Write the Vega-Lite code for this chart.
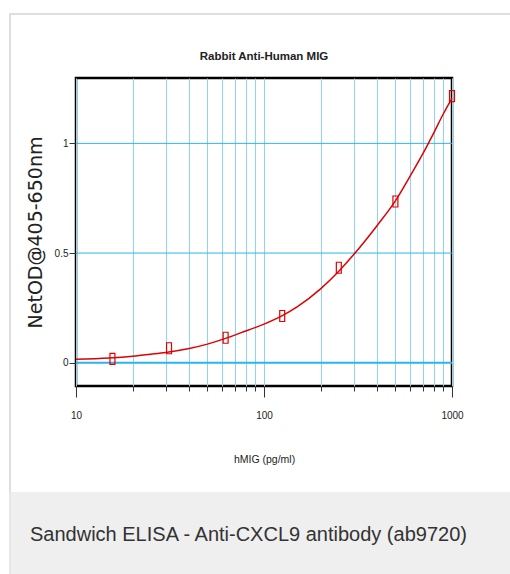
{
  "$schema": "https://vega.github.io/schema/vega-lite/v6.json",
  "background": "white",
  "padding": {"left": 9, "top": 13, "right": -9, "bottom": 0},
  "bounds": "flush",
  "center": {"row": false, "column": true},
  "columns": 2,
  "spacing": 0,
  "datasets": {
    "points": [
      {"conc": 15.625, "od": 0.018},
      {"conc": 31.25, "od": 0.066},
      {"conc": 62.5, "od": 0.114},
      {"conc": 125, "od": 0.213},
      {"conc": 250, "od": 0.433},
      {"conc": 500, "od": 0.735},
      {"conc": 1000, "od": 1.215}
    ],
    "curve": [
      {"conc": 10, "od": 0.016},
      {"conc": 15, "od": 0.022},
      {"conc": 20, "od": 0.03},
      {"conc": 25, "od": 0.039},
      {"conc": 30, "od": 0.047},
      {"conc": 40, "od": 0.065},
      {"conc": 50, "od": 0.085},
      {"conc": 62.5, "od": 0.111},
      {"conc": 75, "od": 0.136},
      {"conc": 100, "od": 0.176},
      {"conc": 125, "od": 0.215},
      {"conc": 150, "od": 0.255},
      {"conc": 200, "od": 0.337},
      {"conc": 250, "od": 0.417},
      {"conc": 300, "od": 0.493},
      {"conc": 400, "od": 0.626},
      {"conc": 500, "od": 0.738},
      {"conc": 600, "od": 0.852},
      {"conc": 700, "od": 0.953},
      {"conc": 800, "od": 1.048},
      {"conc": 900, "od": 1.135},
      {"conc": 1000, "od": 1.205}
    ],
    "ygrid": [
      {"od": 0},
      {"od": 0.5},
      {"od": 1}
    ]
  },
  "concat": [
    {
      "width": 2,
      "height": 65,
      "view": {"fill": "#dedede", "stroke": null},
      "data": {"values": []},
      "mark": "text",
      "encoding": {}
    },
    {
      "width": 508,
      "height": 2,
      "view": {"fill": "#dedede", "stroke": null},
      "data": {"values": []},
      "mark": "text",
      "encoding": {}
    },
    {
      "width": 2,
      "height": 414,
      "view": {"fill": "#dedede", "stroke": null},
      "data": {"values": []},
      "mark": "text",
      "encoding": {}
    },
    {
      "width": 376,
      "height": 308,
      "title": {
        "text": "Rabbit Anti-Human MIG",
        "font": "Liberation Sans",
        "fontSize": 11.5,
        "fontWeight": "bold",
        "color": "#222",
        "baseline": "alphabetic",
        "offset": 7
      },
      "view": {"stroke": "black", "strokeWidth": 2.5},
      "layer": [
        {
          "data": {"name": "ygrid"},
          "mark": {"type": "rule", "color": "#2bb5ea"},
          "encoding": {
            "y": {
              "field": "od",
              "type": "quantitative",
              "scale": {"domain": [-0.106, 1.298], "nice": false, "zero": false},
              "axis": {
                "values": [0, 0.5, 1],
                "format": "~g",
                "title": "NetOD@405-650nm",
                "domain": false,
                "grid": false,
                "tickColor": "#333",
                "tickSize": 7,
                "labelFont": "Liberation Sans",
                "labelFontSize": 10,
                "labelColor": "#222",
                "labelPadding": 1,
                "titleFont": "DejaVu Sans",
                "titleFontSize": 19,
                "titleFontWeight": "normal",
                "titleColor": "#222",
                "titlePadding": 9
              }
            },
            "strokeWidth": {"condition": {"test": "datum.od == 0", "value": 2}, "value": 1}
          }
        },
        {
          "data": {"name": "curve"},
          "mark": {"type": "line", "color": "#e00000", "strokeWidth": 1.5, "interpolate": "monotone"},
          "encoding": {
            "x": {
              "field": "conc",
              "type": "quantitative",
              "scale": {"type": "log", "domain": [10, 1000], "nice": false},
              "axis": {
                "values": [10, 20, 30, 40, 50, 60, 70, 80, 90, 100, 200, 300, 400, 500, 600, 700, 800, 900, 1000],
                "format": "d",
                "labelExpr": "datum.value == 10 || datum.value == 100 || datum.value == 1000 ? datum.label : ''",
                "title": "hMIG (pg/ml)",
                "domain": false,
                "grid": true,
                "gridColor": "#8fd3f3",
                "gridWidth": 1,
                "tickColor": "#333",
                "tickSize": {"condition": {"test": "datum.value == 10 || datum.value == 100 || datum.value == 1000", "value": 11}, "value": 5},
                "labelFont": "Liberation Sans",
                "labelFontSize": 10,
                "labelColor": "#222",
                "labelPadding": 13,
                "labelFlush": false,
                "labelOverlap": "greedy",
                "labelSeparation": 0,
                "titleFont": "Liberation Sans",
                "titleFontSize": 10.5,
                "titleFontWeight": "normal",
                "titleColor": "#222",
                "titlePadding": 34
              }
            },
            "y": {"field": "od", "type": "quantitative"}
          }
        },
        {
          "data": {"name": "points"},
          "mark": {
            "type": "point",
            "shape": "M-0.45,-1L0.45,-1L0.45,1L-0.45,1Z",
            "size": 121,
            "filled": false,
            "color": "#e00000",
            "strokeWidth": 1.2,
            "opacity": 1
          },
          "encoding": {
            "x": {"field": "conc", "type": "quantitative"},
            "y": {"field": "od", "type": "quantitative"}
          }
        }
      ]
    },
    {
      "width": 2,
      "height": 82,
      "view": {"fill": "#e6e7e6", "stroke": null},
      "data": {"values": []},
      "mark": "text",
      "encoding": {}
    },
    {
      "width": 508,
      "height": 82,
      "view": {"fill": "#eeefee", "stroke": null},
      "title": {
        "text": "Sandwich ELISA - Anti-CXCL9 antibody (ab9720)",
        "orient": "top",
        "anchor": "start",
        "offset": -69,
        "dx": 19,
        "baseline": "alphabetic",
        "font": "Liberation Sans",
        "fontSize": 20,
        "fontWeight": "normal",
        "color": "#333"
      },
      "data": {"values": []},
      "mark": "text",
      "encoding": {}
    }
  ]
}
